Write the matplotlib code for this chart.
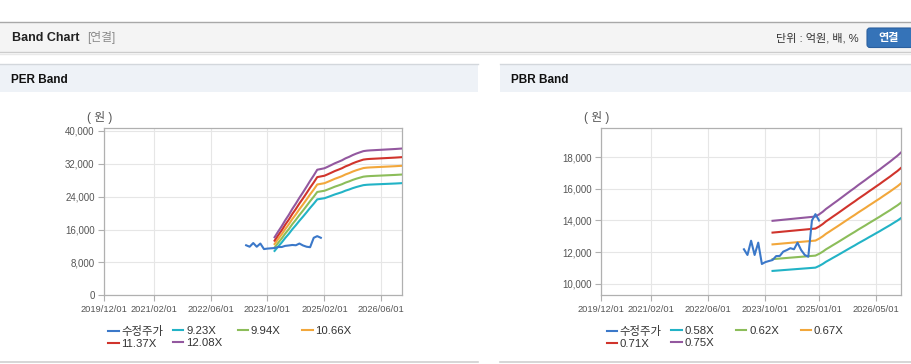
"""Band Chart (PER / PBR) 재현"""
import numpy as np
import pandas as pd
import matplotlib
matplotlib.use("Agg")
import matplotlib.pyplot as plt
from matplotlib.patches import Rectangle, FancyBboxPatch

plt.rcParams["font.family"] = ["Liberation Sans", "Noto Sans CJK KR"]
plt.rcParams["axes.unicode_minus"] = False

W, H = 912, 364

# 수정주가 (월별, 2023/04 ~ 2025/01)
price = [12180, 11820, 12720, 11820, 12600, 11250, 11370, 11440, 11500, 11750,
         11760, 12030, 12130, 12250, 12180, 12600, 12130, 11820, 11710, 14000,
         14400, 14000]
price_dates = pd.date_range("2023-04-01", periods=len(price), freq="MS")

# 밴드 기준값 (월별, 2023/12 ~ 2026/12)
eps = [1170, 1285, 1395, 1510, 1620, 1740, 1850, 1965, 2075, 2190, 2305, 2415,
       2530, 2545, 2560, 2590, 2625, 2660, 2690, 2720, 2760, 2790, 2825, 2855,
       2880, 2905, 2915, 2920, 2924, 2928, 2932, 2936, 2940, 2944, 2948, 2953,
       2958]
bps = [18640, 18670, 18700, 18730, 18760, 18790, 18820, 18850, 18880, 18910,
       18940, 18970, 19000, 19180, 19400, 19640, 19860, 20080, 20300, 20520,
       20750, 20980, 21200, 21420, 21650, 21870, 22090, 22300, 22520, 22740,
       22960, 23190, 23420, 23650, 23890, 24130, 24400]
band_dates = pd.date_range("2023-12-01", periods=len(eps), freq="MS")

per_multiples = [9.23, 9.94, 10.66, 11.37, 12.08]
pbr_multiples = [0.58, 0.62, 0.67, 0.71, 0.75]

per_xticks = ["2019/12/01", "2021/02/01", "2022/06/01", "2023/10/01", "2025/02/01", "2026/06/01"]
pbr_xticks = ["2019/12/01", "2021/02/01", "2022/06/01", "2023/10/01", "2025/01/01", "2026/05/01"]
per_yticks = [0, 8000, 16000, 24000, 32000, 40000]
pbr_yticks = [10000, 12000, 14000, 16000, 18000]

price_color = "#3b78c9"
band_colors = ["#22b3c6", "#8cbd5a", "#f2a73b", "#d0342c", "#93589f"]

fig = plt.figure(figsize=(W / 100, H / 100), dpi=100)
fig.patch.set_facecolor("white")

# 배경 장식 (픽셀 좌표)
bg = fig.add_axes([0, 0, 1, 1])
bg.set_xlim(0, W)
bg.set_ylim(H, 0)
bg.axis("off")

bg.add_patch(Rectangle((0, 22), W, 30, fc="#f4f4f4", ec="none"))
bg.plot([0, W], [22, 22], color="#a8a8a8", lw=1)
bg.plot([0, W], [52, 52], color="#cccccc", lw=1)
bg.plot([0, W], [53.5, 53.5], color="#e9e9e9", lw=1)
bg.text(12, 38, "Band Chart", fontsize=9, fontweight="bold", color="#222222", va="center")
bg.text(87, 38, "[연결]", fontsize=8.5, color="#8a8a8a", va="center")
bg.text(859, 38, "단위 : 억원, 배, %", fontsize=8, color="#333333", va="center", ha="right")
bg.add_patch(FancyBboxPatch((867, 28), 46, 19.5, boxstyle="round,pad=0,rounding_size=3",
                            fc="#3573b8", ec="#2b609f", lw=0.8))
bg.text(889, 38, "연결", fontsize=8, fontweight="bold", color="white", va="center", ha="center")

for x0, x1, title in [(0, 478, "PER Band"), (500, W, "PBR Band")]:
    bg.add_patch(Rectangle((x0, 64), x1 - x0, 28, fc="#eef2f7", ec="none"))
    bg.plot([x0, x1], [64, 64], color="#d3d7dc", lw=1)
    bg.plot([x0, x1], [362, 362], color="#d0d0d0", lw=1.2)
    bg.text(x0 + 11, 80, title, fontsize=8.5, fontweight="bold", color="#111111", va="center")


def make_axes(x0, x1, y0, y1):
    return fig.add_axes([x0 / W, 1 - y1 / H, (x1 - x0) / W, (y1 - y0) / H])


def draw_band(ax, base, multiples, xticks, yticks, ylim, unit_x, legend_x):
    ax.set_facecolor("white")
    for m, c in zip(multiples, band_colors):
        ax.plot(band_dates, np.array(base) * m, color=c, lw=1.5, label=f"{m:.2f}X", zorder=3)
    ax.plot(price_dates, price, color=price_color, lw=1.5, label="수정주가", zorder=4)

    ax.set_xlim(pd.Timestamp("2019-12-01"), pd.Timestamp("2026-12-01"))
    ax.set_xticks(pd.to_datetime(xticks))
    ax.set_xticklabels(xticks)
    ax.set_ylim(*ylim)
    ax.set_yticks(yticks)
    ax.set_yticklabels([f"{v:,}" for v in yticks])

    ax.grid(color="#e6e6e6", lw=0.8)
    ax.set_axisbelow(True)
    for s in ax.spines.values():
        s.set_color("#b0b0b0")
        s.set_linewidth(0.9)
    ax.tick_params(axis="both", length=4, width=0.8, color="#b0b0b0",
                   labelcolor="#555555", pad=3)
    ax.tick_params(axis="x", labelsize=6.7)
    ax.tick_params(axis="y", labelsize=7)

    bg.text(unit_x, 118, "( 원 )", fontsize=8.5, color="#555555", ha="center", va="center")

    handles, labels = ax.get_legend_handles_labels()
    # 수정주가 먼저
    handles = handles[-1:] + handles[:-1]
    labels = labels[-1:] + labels[:-1]
    for col in range(4):
        idx = [i for i in (col, col + 4) if i < len(handles)]
        fig.legend([handles[i] for i in idx], [labels[i] for i in idx],
                   loc="upper left", bbox_to_anchor=((legend_x + 64.7 * col) / W, 1 - 325.5 / H),
                   frameon=False, fontsize=8.2, handlelength=0.9, handletextpad=0.25,
                   borderpad=0, borderaxespad=0, labelspacing=0.22,
                   labelcolor="#333333")


ax1 = make_axes(104.3, 402.3, 128.3, 295.3)
draw_band(ax1, eps, per_multiples, per_xticks, per_yticks, (0, 40650), 99.5, 108.3)

ax2 = make_axes(601.3, 901, 128.3, 295.3)
draw_band(ax2, bps, pbr_multiples, pbr_xticks, pbr_yticks, (9270, 19830), 596.7, 606.7)

fig.savefig("out.png", dpi=100)
